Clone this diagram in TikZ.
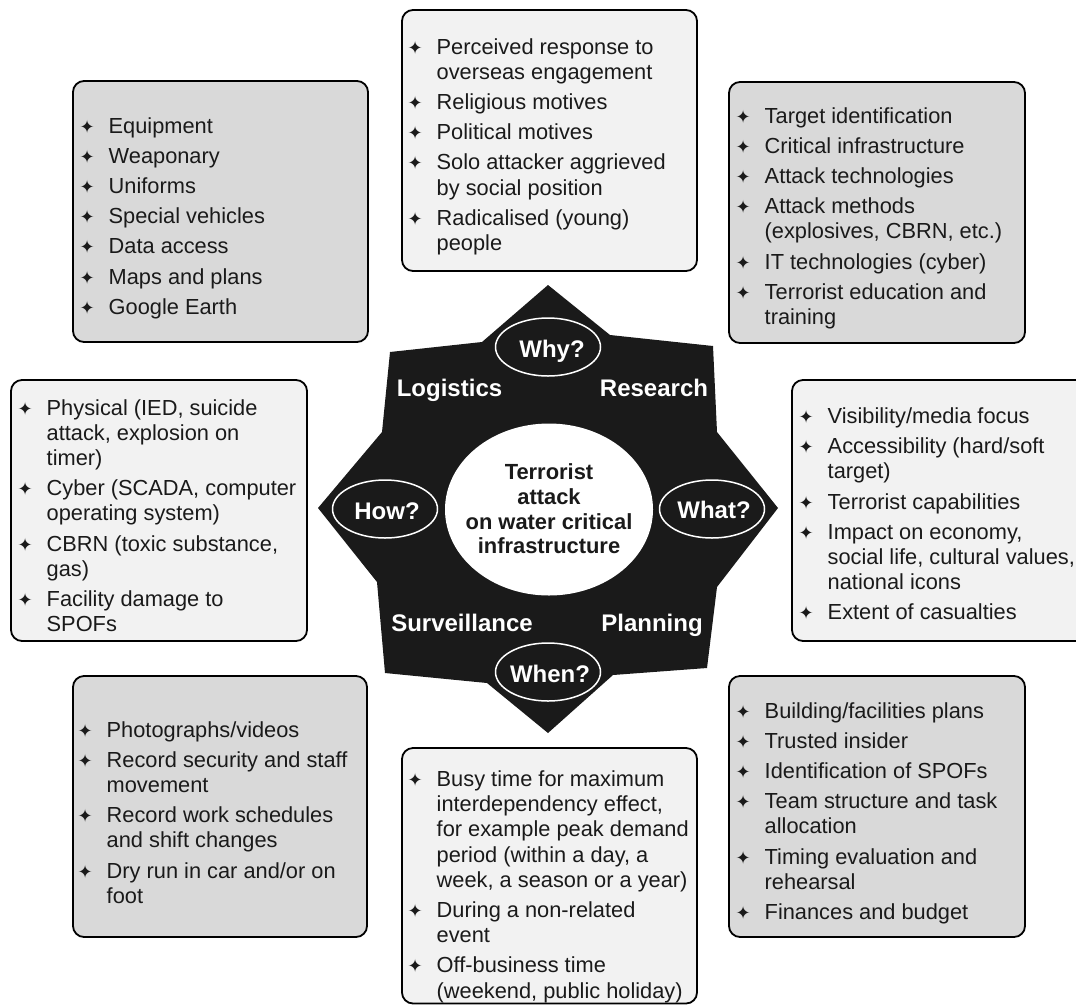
\documentclass[tikz,border=0pt]{standalone}
\usepackage{fontspec}
\setmainfont{Liberation Sans}
\newfontfamily\djv{DejaVu Sans}
\definecolor{boxgray}{HTML}{D9D9D9}
\definecolor{boxlight}{HTML}{F2F2F2}
\definecolor{ink}{HTML}{1A1A1A}
\newcommand\bul{\raisebox{0pt}{\djv\fontsize{18}{18}\selectfont ✦}}
\newcommand\lst[2]{\vtop{\fontsize{21.8}{25.2}\selectfont\hsize=400pt\parindent=0pt\parskip=0pt\rightskip=0pt plus 1fil\relax\def\bo{#1}#2\par}}
\newcommand\bi[1]{\noindent\hangindent=\bo\hangafter=1\hbox to \bo{\hbox to 0pt{\hss\bul\hss}\hfil}#1\par}
\newcommand\bn[1]{\vskip 5pt\bi{#1}}
\tikzset{
  boxg/.style={draw=black, line width=1.8pt, rounded corners=11pt, fill=boxgray, inner sep=0pt},
  boxl/.style={draw=black, line width=1.8pt, rounded corners=11pt, fill=boxlight, inner sep=0pt},
  lsttext/.style={anchor=base west, inner sep=0pt, text=ink},
  qell/.style={draw=white, line width=1.5pt, fill=ink, ellipse, minimum width=105pt, minimum height=58pt, inner sep=0pt},
  qtext/.style={text=white, font=\bfseries\fontsize{24}{28}\selectfont, anchor=base, inner sep=0pt},
}
\usetikzlibrary{shapes.geometric}
\begin{document}
\begin{tikzpicture}[x=1pt,y=-1pt]
\useasboundingbox (0,0) rectangle (1076,1005);
% boxes
\node[boxg, minimum width=295pt, minimum height=261pt] (bL) at (220.5,211.5) {};
\node[boxl, minimum width=295pt, minimum height=261pt] (bW) at (549.5,140.5) {};
\node[boxg, minimum width=296pt, minimum height=261pt] (bR) at (877,212.5) {};
\node[boxl, minimum width=296pt, minimum height=261pt] (bH) at (159,510.5) {};
\node[boxl, minimum width=300pt, minimum height=261pt] (bT) at (942,510.5) {};
\node[boxg, minimum width=294pt, minimum height=261pt] (bS) at (220,806.5) {};
\node[boxl, minimum width=295pt, minimum height=255.5pt] (bN) at (549.5,875.75) {};
\node[boxg, minimum width=296pt, minimum height=261pt] (bP) at (877,806.5) {};
% lists
\node[lsttext] (tL) at (87,133) {\lst{21.5pt}{\bi{Equipment}\bn{Weaponary}\bn{Uniforms}\bn{Special vehicles}\bn{Data access}\bn{Maps and plans}\bn{Google Earth}}};
\node[lsttext] (tW) at (415,54) {\lst{21.5pt}{\bi{Perceived response to\\overseas engagement}\bn{Religious motives}\bn{Political motives}\bn{Solo attacker aggrieved\\by social position}\bn{Radicalised (young)\\people}}};
\node[lsttext] (tR) at (743,123) {\lst{21.5pt}{\bi{Target identification}\bn{Critical infrastructure}\bn{Attack technologies}\bn{Attack methods\\(explosives, CBRN, etc.)}\bn{IT technologies (cyber)}\bn{Terrorist education and\\training}}};
\node[lsttext] (tH) at (25,415) {\lst{21.5pt}{\bi{Physical (IED, suicide\\attack, explosion on\\timer)}\bn{Cyber (SCADA, computer\\operating system)}\bn{CBRN (toxic substance,\\gas)}\bn{Facility damage to\\SPOFs}}};
\node[lsttext] (tT) at (806,423.5) {\lst{21.5pt}{\bi{Visibility/media focus}\bn{Accessibility (hard/soft\\target)}\bn{Terrorist capabilities}\bn{Impact on economy,\\social life, cultural values,\\national icons}\bn{Extent of casualties}}};
\node[lsttext] (tS) at (85,737) {\lst{21.5pt}{\bi{Photographs/videos}\bn{Record security and staff\\movement}\bn{Record work schedules\\and shift changes}\bn{Dry run in car and/or on\\foot}}};
\node[lsttext] (tN) at (415,786.5) {\lst{21.5pt}{\bi{Busy time for maximum\\interdependency effect,\\for example peak demand\\period (within a day, a\\week, a season or a year)}\bn{During a non-related\\event}\bn{Off-business time\\(weekend, public holiday)}}};
\node[lsttext] (tP) at (743,718) {\lst{21.5pt}{\bi{Building/facilities plans}\bn{Trusted insider}\bn{Identification of SPOFs}\bn{Team structure and task\\allocation}\bn{Timing evaluation and\\rehearsal}\bn{Finances and budget}}};
% star
\fill[ink] (548,285) -- (610,335) -- (713,346) -- (717,432) -- (778,508) -- (717,587) -- (707,668) -- (613,675) -- (548,733) -- (487,683) -- (385,673) -- (377,582) -- (318,508) -- (382,432) -- (390,352) -- (482,342) -- cycle;
% centre
\node[ellipse, fill=white, minimum width=208pt, minimum height=172pt, inner sep=0pt] (core) at (549,509.5) {};
\node[align=center, text=ink, font=\bfseries\fontsize{21.9}{24.7}\selectfont, inner sep=0pt] (coretext) at (549,509) {Terrorist\\attack\\on water critical\\infrastructure};
% question ellipses
\node[qell] (why) at (548,347) {};
\node[qell] (how) at (385,509) {};
\node[qell] (what) at (712,509) {};
\node[qell] (when) at (548,672) {};
\node[qtext] (whyt) at (552,357) {Why?};
\node[qtext] (howt) at (387,519.5) {How?};
\node[qtext] (whatt) at (714,518.5) {What?};
\node[qtext] (whent) at (550,682) {When?};
% phase labels
\node[qtext] (log) at (449.5,396) {Logistics};
\node[qtext] (res) at (654,396) {Research};
\node[qtext] (sur) at (462,631) {Surveillance};
\node[qtext] (pla) at (652,631) {Planning};
\end{tikzpicture}
\end{document}
